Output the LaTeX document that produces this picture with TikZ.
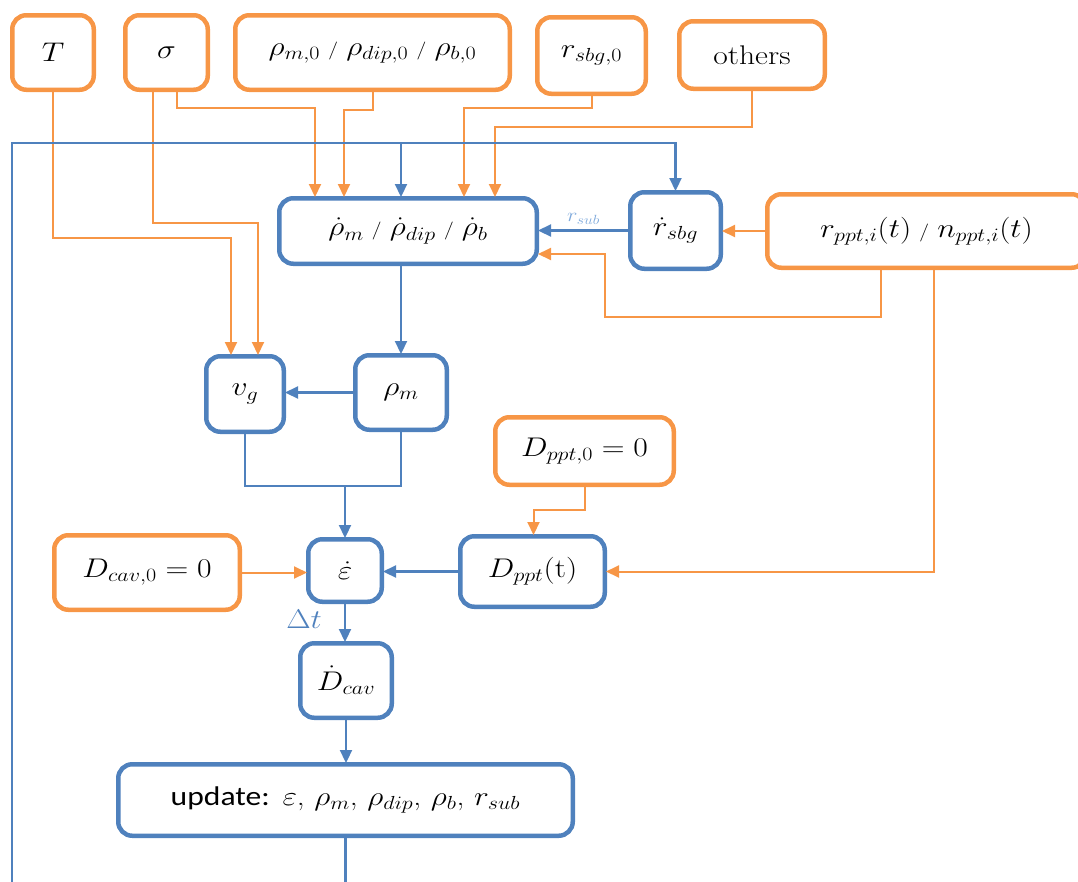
\RequirePackage{fix-cm}
\documentclass[tikz,border=0pt]{standalone}
\usepackage{fontspec}
\newfontfamily\carlito{Carlito}
\usetikzlibrary{arrows.meta,calc}

\definecolor{myorange}{HTML}{F79646}
\definecolor{myblue}{HTML}{4F81BD}
\definecolor{lightblue}{HTML}{7EA9DB}

\newcommand{\bigfs}{\fontsize{27}{31}\selectfont}
% widened label text
\newcommand{\st}[1]{\scalebox{1.17}[1]{#1}}
\newcommand{\sepslash}{\mbox{\fontsize{18}{18}\selectfont\hspace{7pt}/\hspace{7pt}}}

\tikzset{
  basebox/.style={line width=4.5pt, rounded corners=14pt, fill=white,
    inner sep=0pt, font=\bigfs, align=center},
  obox/.style={basebox, draw=myorange},
  bbox/.style={basebox, draw=myblue},
  oline/.style={draw=myorange, line width=2pt},
  bline/.style={draw=myblue, line width=2.2pt},
  oarr/.style={oline, -{Triangle[length=13pt,width=12pt]}, shorten >=-1pt},
  barr/.style={bline, -{Triangle[length=13pt,width=12pt]}, shorten >=-1pt},
}

\begin{document}
\begin{tikzpicture}[x=1pt,y=-1pt]
\useasboundingbox (0,0) rectangle (1078,881);
\clip (0,0) rectangle (1078,881);

% input boxes along the top
\node[obox, minimum width=81.5, minimum height=74.5] (T) at (53,52.5) {\st{$T$}};
\node[obox, minimum width=82.5, minimum height=74.5] (sigma) at (166.5,52.5) {\st{$\sigma$}};
\node[obox, minimum width=274.5, minimum height=74.5] (rho0) at (372.5,52.5)
  {\st{$\rho_{m,0}$\sepslash$\rho_{dip,0}$\sepslash$\rho_{b,0}$}};
\node[obox, minimum width=108.5, minimum height=76.5] (rsbg0) at (591.5,55.5) {\st{$r_{sbg,0}$}};
\node[obox, minimum width=145.5, minimum height=67.5] (others) at (752,55) {\st{others}};

% rate boxes
\node[bbox, minimum width=257.5, minimum height=65.5] (rhodot) at (408,231)
  {\st{$\dot\rho_m$\sepslash$\dot\rho_{dip}$\sepslash$\dot\rho_b$}};
\node[bbox, minimum width=90.5, minimum height=76.5] (rsdot) at (675.5,230.5) {\st{$\dot r_{sbg}$}};
\node[obox, minimum width=318.5, minimum height=73.5] (rppt) at (926.5,231)
  {\st{$r_{ppt,i}(t)$\sepslash$n_{ppt,i}(t)$}};

\node[bbox, minimum width=77.5, minimum height=75.5] (vg) at (245,394) {\st{$v_g$}};
\node[bbox, minimum width=91.5, minimum height=74.5] (rhom) at (401,392.5) {\st{$\rho_m$}};

\node[obox, minimum width=178.5, minimum height=67.5] (Dppt0) at (584.5,451) {\st{$D_{ppt,0}=0$}};
\node[obox, minimum width=185.5, minimum height=74.5] (Dcav0) at (147,572.5) {\st{$D_{cav,0}=0$}};
\node[bbox, minimum width=73.5, minimum height=62.5] (epsdot) at (345,570.5) {\st{$\dot\varepsilon$}};
\node[bbox, minimum width=144.5, minimum height=70.5] (Dppt) at (532.5,571.5) {\st{$D_{ppt}$(t)}};
\node[bbox, minimum width=91.5, minimum height=74.5] (Dcav) at (346,680.5) {\st{$\dot D_{cav}$}};
\node[bbox, minimum width=454.5, minimum height=71.5] (update) at (345.5,800)
  {\st{{\carlito update:} $\varepsilon$, $\rho_m$, $\rho_{dip}$, $\rho_b$, $r_{sub}$}};

% inputs feeding the rate box and v_g
\draw[oarr] (T.south) -- (T.south |- 0,238) -| ([xshift=-14pt]vg.north);
\draw[oarr] ([xshift=-13.5pt]sigma.south) -- ([xshift=-13.5pt]sigma.south |- 0,223)
  -| ([xshift=13pt]vg.north);
\draw[oarr] ([xshift=10.5pt]sigma.south) -- ([xshift=10.5pt]sigma.south |- 0,108)
  -| ([xshift=-93pt]rhodot.north);
\draw[oarr] (rho0.south) -- (rho0.south |- 0,110) -| ([xshift=-64pt]rhodot.north);
\draw[oarr] (rsbg0.south) -- (rsbg0.south |- 0,108) -| ([xshift=56pt]rhodot.north);
\draw[oarr] (others.south) -- (others.south |- 0,127) -| ([xshift=87pt]rhodot.north);

% feedback loop from the update step
\coordinate (loopcorner) at (12,143);
\draw[barr] (update.south) -- (update.south |- 0,920) -| (loopcorner) -| (rsdot.north);
\draw[barr] ([xshift=-7pt]rhodot.north |- loopcorner) -- ([xshift=-7pt]rhodot.north);

% rate box chain
\draw[barr] (rhom.north |- rhodot.south) -- (rhom.north);
\draw[barr] (rhom.west) -- (vg.east |- rhom.west);
\draw[barr] (rsdot.west) -- (rhodot.east |- rsdot.west)
  node[midway, above=2pt, text=lightblue, font=\fontsize{19}{19}\selectfont] (rsublabel) {\st{$r_{sub}$}};
\draw[oarr] (rppt.west) -- (rsdot.east |- rppt.west);
\coordinate (rpptbend) at (605,317);
\draw[oarr] ([xshift=-45.5pt]rppt.south) |- (rpptbend) |- ([yshift=-23pt]rhodot.east);
\draw[oarr] ([xshift=7pt]rppt.south) |- (Dppt.east);

% strain rate
\coordinate (join) at (345,486);
\draw[bline] (vg.south) |- (join) -| (rhom.south);
\draw[barr] (join) -- (epsdot.north);
\draw[oarr] (Dcav0.east) -- (epsdot.west |- Dcav0.east);
\draw[barr] (Dppt.west) -- (epsdot.east |- Dppt.west);
\draw[oarr] (Dppt0.south) -- (Dppt0.south |- 0,510) -| ([xshift=1pt]Dppt.north);

% time step and update
\draw[barr] (epsdot.south) -- (epsdot.south |- Dcav.north)
  node[pos=0.4, left=22pt, text=myblue, font=\bigfs, inner sep=0pt] (dtlabel) {\st{$\Delta t$}};
\draw[barr] (Dcav.south) -- (Dcav.south |- update.north);
\end{tikzpicture}
\end{document}
